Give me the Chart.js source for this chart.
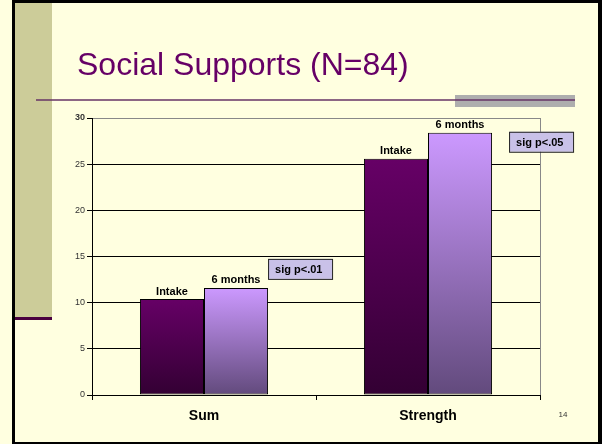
<!DOCTYPE html>
<html>
<head>
<meta charset="utf-8">
<script src="https://cdn.jsdelivr.net/npm/chart.js@4"></script>
<style>
  html, body { margin: 0; padding: 0; background: #FFFFE0; }
  canvas { display: block; }
</style>
</head>
<body>
<canvas id="chart" width="602" height="444"></canvas>
<script>
// data
const categories = ['Sum', 'Strength'];
const seriesNames = ['Intake', '6 months'];
const intakeValues = [10.4, 25.6];
const sixMonthValues = [11.6, 28.4];
const sigNotes = ['sig p<.01', 'sig p<.05'];
const yTicks = [0, 5, 10, 15, 20, 25, 30];

const FONT = "'Liberation Sans', Arial, sans-serif";

const gradients = [
    ['#660066', '#330033'],
    ['#CC99FF', '#624A7C']
];

function barFill(ctx) {
    const chart = ctx.chart;
    const pair = gradients[ctx.datasetIndex];
    if (!chart.chartArea) return pair[0];
    const y = chart.scales.y;
    const top = y.getPixelForValue(ctx.raw);
    const bottom = y.getPixelForValue(0);
    const g = chart.ctx.createLinearGradient(0, top, 0, bottom);
    g.addColorStop(0, pair[0]);
    g.addColorStop(1, pair[1]);
    return g;
}

// slide frame, title, rules
const slidePlugin = {
    id: 'slide',
    beforeDraw(chart) {
        const c = chart.ctx;
        c.save();
        c.fillStyle = '#FFFFE0';
        c.fillRect(0, 0, 602, 444);
        // left strip
        c.fillStyle = '#CCCC99';
        c.fillRect(15, 0, 37, 318);
        c.fillStyle = '#4A0040';
        c.fillRect(15, 317, 37, 3);
        // frame
        c.fillStyle = '#000';
        c.fillRect(12, 0, 590, 3);
        c.fillRect(12, 0, 3, 444);
        c.fillRect(598, 0, 4, 444);
        c.fillRect(12, 442, 590, 2);
        // title
        c.fillStyle = '#660066';
        c.font = '32px ' + FONT;
        c.textBaseline = 'alphabetic';
        c.fillText('Social Supports (N=84)', 77, 75);
        // rule + gray bar
        c.fillStyle = '#AEAEAE';
        c.fillRect(455, 95, 120, 12);
        c.strokeStyle = '#663366';
        c.lineWidth = 1.5;
        c.beginPath();
        c.moveTo(36, 100);
        c.lineTo(575, 100);
        c.stroke();
        // page number
        c.fillStyle = '#333';
        c.font = '8px ' + FONT;
        c.textAlign = 'center';
        c.textBaseline = 'middle';
        c.fillText('14', 563, 415);
        c.restore();
    },
    beforeDatasetsDraw(chart) {
        const a = chart.chartArea;
        const c = chart.ctx;
        c.save();
        c.strokeStyle = '#888';
        c.lineWidth = 1;
        c.beginPath();
        c.moveTo(a.right + 0.5, a.top);
        c.lineTo(a.right + 0.5, a.bottom);
        c.stroke();
        c.restore();
    },
    afterDatasetsDraw(chart, args, opts) {
        const c = chart.ctx;
        c.save();
        c.font = 'bold 11px ' + FONT;
        c.fillStyle = '#000';
        c.textAlign = 'center';
        c.textBaseline = 'bottom';
        chart.data.datasets.forEach((ds, di) => {
            chart.getDatasetMeta(di).data.forEach(bar => {
                c.fillText(ds.label, bar.x, bar.y - 2);
            });
        });
        // significance boxes, anchored to the 6 months bars
        const meta = chart.getDatasetMeta(1);
        sigNotes.forEach((txt, i) => {
            const bar = meta.data[i];
            const off = opts.offsets[i];
            const x = bar.x + bar.width / 2 + off[0];
            const y = bar.y + off[1];
            const w = 64, h = 20;
            c.fillStyle = '#C9C1E8';
            c.fillRect(x, y, w, h);
            c.strokeStyle = '#222';
            c.lineWidth = 1;
            c.strokeRect(x + 0.5, y + 0.5, w, h);
            c.fillStyle = '#000';
            c.textAlign = 'left';
            c.textBaseline = 'middle';
            c.fillText(txt, x + 7, y + h / 2 + 1);
        });
        c.restore();
    }
};

const barStyle = {
    backgroundColor: barFill,
    borderColor: '#000',
    borderWidth: 1,
    borderSkipped: false,
    categoryPercentage: 0.572,
    barPercentage: 1.0
};

new Chart(document.getElementById('chart'), {
    type: 'bar',
    data: {
        labels: categories,
        datasets: [
            Object.assign({ label: seriesNames[0], data: intakeValues }, barStyle),
            Object.assign({ label: seriesNames[1], data: sixMonthValues }, barStyle)
        ]
    },
    options: {
        responsive: false,
        animation: false,
        devicePixelRatio: 1,
        layout: { padding: { left: 0, top: 118, right: 62, bottom: 0 } },
        scales: {
            x: {
                offset: true,
                afterFit(scale) { scale.height = 49; },
                grid: {
                    offset: true,
                    drawOnChartArea: false,
                    drawTicks: true,
                    tickLength: 5,
                    color: '#000',
                    tickColor: '#000'
                },
                border: { display: true, color: '#000', width: 1 },
                ticks: {
                    color: '#000',
                    padding: 8,
                    font: { family: FONT, size: 14, weight: 'bold' }
                }
            },
            y: {
                min: 0,
                max: 30,
                afterFit(scale) { scale.width = 92; },
                afterBuildTicks(scale) { scale.ticks = yTicks.map(v => ({ value: v })); },
                grid: {
                    color: ctx => (ctx.tick && ctx.tick.value === 30) ? '#888' : '#000',
                    tickColor: '#000',
                    tickLength: 5,
                    lineWidth: 1
                },
                border: { display: true, color: '#000', width: 1 },
                ticks: {
                    color: '#333',
                    padding: 2,
                    font: ctx => ({
                        family: FONT,
                        size: 9,
                        weight: (ctx.tick && ctx.tick.value === 30) ? 'bold' : 'normal'
                    })
                }
            }
        },
        plugins: {
            legend: { display: false },
            tooltip: { enabled: false },
            colors: { enabled: false },
            slide: { offsets: [[0, -29], [17, -1]] }
        }
    },
    plugins: [slidePlugin]
});
</script>
</body>
</html>
